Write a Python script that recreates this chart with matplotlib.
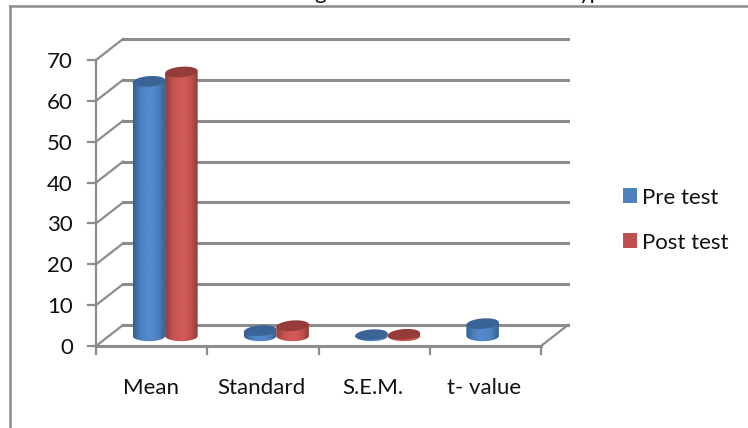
import numpy as np
import matplotlib
matplotlib.use('Agg')
import matplotlib.pyplot as plt
from matplotlib.patches import PathPatch, Polygon, Rectangle
from matplotlib.path import Path
from matplotlib.colors import LinearSegmentedColormap

categories = ['Mean', 'Standard', 'S.E.M.', 't- value']
pre_test = [62.3, 1.3, 0.3, 3.0]
post_test = [64.6, 2.5, 0.4, 0.0]
y_ticks = [0, 10, 20, 30, 40, 50, 60, 70]

W, H = 748, 428
plt.rcParams['font.family'] = ['Lato', 'DejaVu Sans']
FS = 16

fig = plt.figure(figsize=(W / 100, H / 100), dpi=100)
# front plane of the fake 3d box, in pixels
left, right, top, bottom = 96, 541, 60, 346
ax = fig.add_axes([left / W, 1 - bottom / H, (right - left) / W, (bottom - top) / H])
ax.axis('off')

n = len(categories)
px_x = n / (right - left)
px_y = 70 / (bottom - top)
depth_x = 27 * px_x
depth_y = 21 * px_y
grey = '#8c8c8c'

# walls
for v in y_ticks:
    ax.plot([depth_x, n + depth_x], [v + depth_y, v + depth_y], color=grey, lw=2.2, clip_on=False, zorder=1)
    ax.plot([0, depth_x], [v, v + depth_y], color=grey, lw=1.6, clip_on=False, zorder=1)
    ax.plot([-8 * px_x, 0], [v, v], color=grey, lw=1.6, clip_on=False, zorder=2)
    ax.text(-23 * px_x, v - 2 * px_y, str(v), ha='right', va='center', fontsize=FS, color='#111111', clip_on=False)
ax.plot([0, 0], [0, 70], color=grey, lw=1.6, clip_on=False, zorder=2)
ax.plot([n, n + depth_x], [0, depth_y], color=grey, lw=1.6, clip_on=False, zorder=2)
ax.plot([0, n], [0, 0], color=grey, lw=2.2, clip_on=False, zorder=2)
for i in range(n + 1):
    ax.plot([i, i], [0, -8 * px_y], color=grey, lw=1.6, clip_on=False, zorder=2)
for i, name in enumerate(categories):
    ax.text(i + 0.49, -42 * px_y, name, ha='center', va='center', fontsize=FS, color='#111111', clip_on=False)

bar_w = 32.5 * px_x
ell_h = 10.5 * px_y
slant = 1.2 * px_y  # the caps lean up to the right
base_y = depth_y * 0.48
shift = depth_x * 0.5


def cylinder(cx, value, dark, mid, light, top_col, z):
    if value <= 0:
        return
    x0, x1 = cx - bar_w / 2, cx + bar_w / 2
    y0 = base_y
    y1 = base_y + value
    t = np.linspace(0, 2 * np.pi, 60)
    # body outline: bottom half ellipse then up to the slanted cap
    low = np.linspace(np.pi, 2 * np.pi, 30)
    bx = cx + bar_w / 2 * np.cos(low)
    by = y0 + ell_h / 2 * np.sin(low)
    verts = list(zip(bx, by)) + [(x1, y1 + slant), (x0, y1 - slant), (x0, y0)]
    clip = PathPatch(Path(verts), transform=ax.transData, fc='none', ec='none')
    ax.add_patch(clip)
    cmap = LinearSegmentedColormap.from_list('c', [dark, mid, light, light, mid, dark])
    im = ax.imshow(np.linspace(0, 1, 64).reshape(1, -1), extent=(x0, x1, y0 - ell_h, y1 + slant), cmap=cmap,
                   aspect='auto', zorder=z)
    im.set_clip_path(clip)
    cap_x = cx + bar_w / 2 * np.cos(t)
    cap_y = y1 + ell_h / 2 * np.sin(t) + slant * np.cos(t)
    ax.add_patch(Polygon(np.column_stack([cap_x, cap_y]), fc=top_col, ec='none', zorder=z + 0.1, clip_on=False))


for i in range(n):
    center = i + 0.5 + shift
    cylinder(center - bar_w / 2, pre_test[i], '#34608f', '#4a7cba', '#5289cd', '#3a6496', 3)
    cylinder(center + bar_w / 2, post_test[i], '#8f3c3a', '#bf514e', '#cf5a57', '#953c3a', 3.5)
ax.set_xlim(0, n)
ax.set_ylim(0, 70)

# chart frame, only left and top show in the crop
fig.add_artist(plt.Line2D([10 / W, 10 / W], [0, 1 - 6 / H], color=grey, lw=1.8))
fig.add_artist(plt.Line2D([10 / W, 1], [1 - 6 / H, 1 - 6 / H], color=grey, lw=1.8))

# what is left of the cropped title
fig.text(320 / W, 1 + 1 / H, 'g', ha='center', va='baseline', fontsize=FS, color='#111111')
fig.text(591 / W, 1 + 1 / H, 'yp', ha='center', va='baseline', fontsize=FS, color='#111111')

# legend
for label, col, y in zip(['Pre test', 'Post test'], ['#4f81bd', '#c0504d'], [196, 241]):
    fig.add_artist(Rectangle((623 / W, 1 - (y + 7) / H), 14 / W, 15 / H, transform=fig.transFigure, fc=col, ec='none'))
    fig.text(642 / W, 1 - (y + 2) / H, label, ha='left', va='center', fontsize=FS, color='#111111')

fig.savefig('out.png', dpi=100)
